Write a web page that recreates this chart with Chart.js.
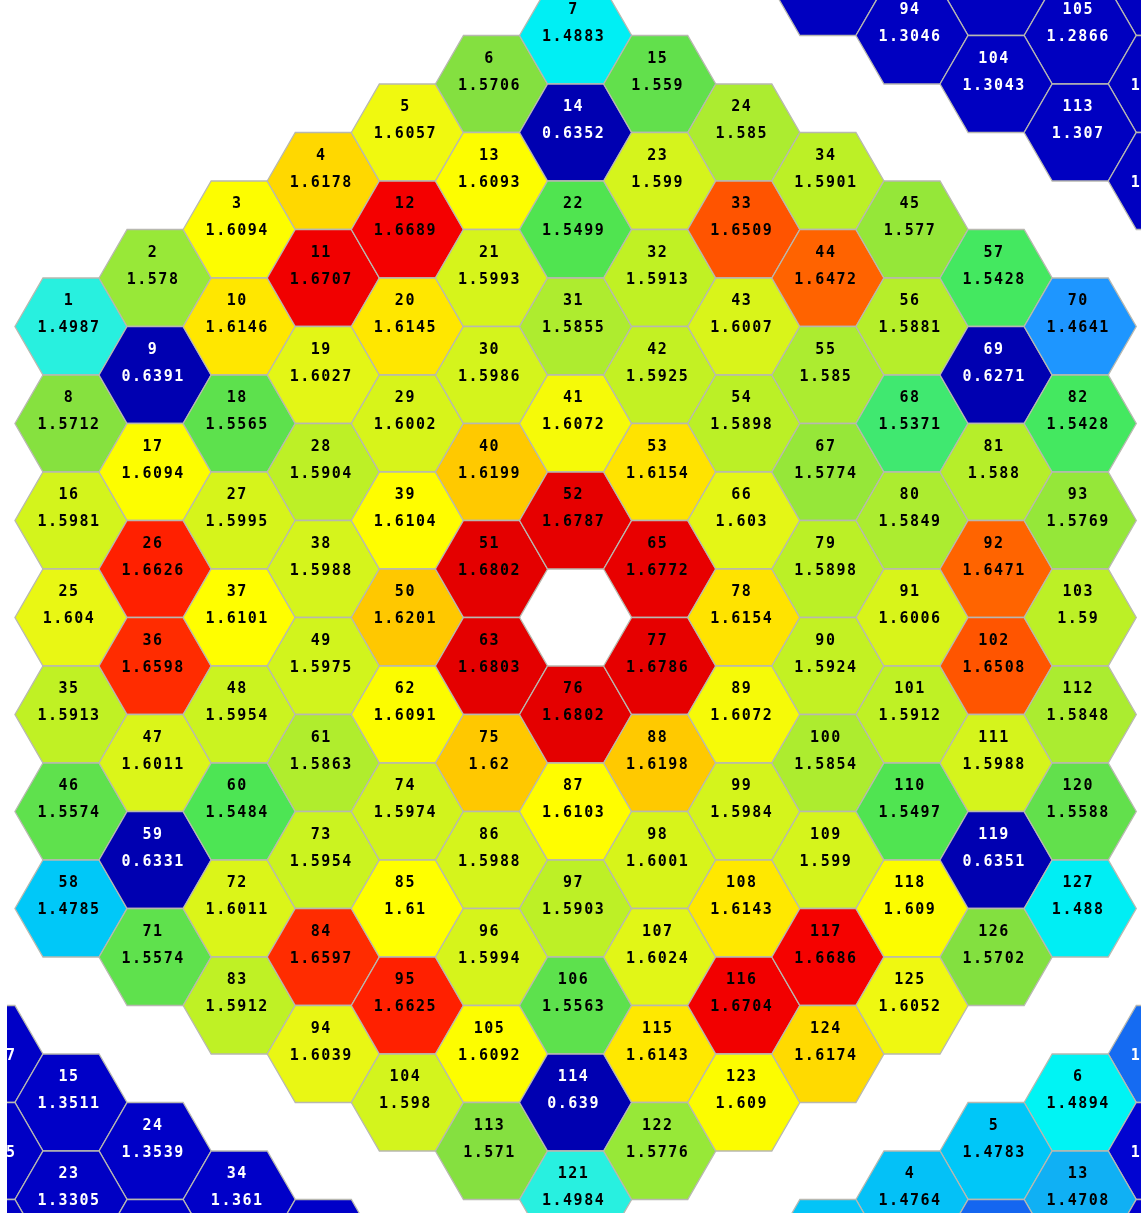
<!DOCTYPE html>
<html>
<head>
<meta charset="utf-8">
<script src="https://cdn.jsdelivr.net/npm/chart.js@4.4.1/dist/chart.umd.min.js"></script>
<style>
  html, body { margin: 0; padding: 0; background: #fff; overflow: hidden; }
  #wrap { width: 1141px; height: 1213px; }
</style>
</head>
<body>
<div id="wrap"><canvas id="chart"></canvas></div>
<script>
// assembly values, one array per diagonal row (number 1..127), 64 = empty centre
const row1 = [1.4987, 1.578, 1.6094, 1.6178, 1.6057, 1.5706, 1.4883];
const row2 = [1.5712, 0.6391, 1.6146, 1.6707, 1.6689, 1.6093, 0.6352, 1.559];
const row3 = [1.5981, 1.6094, 1.5565, 1.6027, 1.6145, 1.5993, 1.5499, 1.599, 1.585];
const row4 = [1.604, 1.6626, 1.5995, 1.5904, 1.6002, 1.5986, 1.5855, 1.5913, 1.6509, 1.5901];
const row5 = [1.5913, 1.6598, 1.6101, 1.5988, 1.6104, 1.6199, 1.6072, 1.5925, 1.6007, 1.6472, 1.577];
const row6 = [1.5574, 1.6011, 1.5954, 1.5975, 1.6201, 1.6802, 1.6787, 1.6154, 1.5898, 1.585, 1.5881, 1.5428];
const row7 = [1.4785, 0.6331, 1.5484, 1.5863, 1.6091, 1.6803, null, 1.6772, 1.603, 1.5774, 1.5371, 0.6271, 1.4641];
const row8 = [1.5574, 1.6011, 1.5954, 1.5974, 1.62, 1.6802, 1.6786, 1.6154, 1.5898, 1.5849, 1.588, 1.5428];
const row9 = [1.5912, 1.6597, 1.61, 1.5988, 1.6103, 1.6198, 1.6072, 1.5924, 1.6006, 1.6471, 1.5769];
const row10 = [1.6039, 1.6625, 1.5994, 1.5903, 1.6001, 1.5984, 1.5854, 1.5912, 1.6508, 1.59];
const row11 = [1.598, 1.6092, 1.5563, 1.6024, 1.6143, 1.599, 1.5497, 1.5988, 1.5848];
const row12 = [1.571, 0.639, 1.6143, 1.6704, 1.6686, 1.609, 0.6351, 1.5588];
const row13 = [1.4984, 1.5776, 1.609, 1.6174, 1.6052, 1.5702, 1.488];

// neighbouring assemblies (only the part inside the picture)
const topRightNumbers = [83, 95, 106, 94, 105, 104, 114, 113, 121];
const topRightValues = [1.3021, 1.2958, 1.2893, 1.3046, 1.2866, 1.3043, 1.2911, 1.307, 1.3102];
const bottomLeftNumbers = [7, 15, 14, 24, 23, 34, 22, 33, 45];
const bottomLeftValues = [1.3447, 1.3511, 1.3385, 1.3539, 1.3305, 1.361, 1.3412, 1.3508, 1.3583];
const bottomRightNumbers = [7, 6, 14, 5, 13, 4, 3, 12, 22];
const bottomRightValues = [1.4562, 1.4894, 1.4215, 1.4783, 1.4708, 1.4764, 1.4771, 1.4553, 1.4012];

const rows = [row1, row2, row3, row4, row5, row6, row7, row8, row9, row10, row11, row12, row13];

// colour scale (jet-like) value -> rgb
const colorStops = [
  [0.6, [0, 0, 176]], [1.3, [0, 0, 192]], [1.42, [0, 0, 208]], [1.455, [20, 100, 240]],
  [1.4641, [30, 150, 255]], [1.4708, [16, 176, 244]], [1.4785, [0, 200, 248]],
  [1.488, [0, 238, 244]], [1.4894, [0, 244, 244]], [1.4985, [40, 240, 224]],
  [1.5371, [64, 232, 112]], [1.5428, [68, 232, 96]], [1.55, [80, 228, 80]],
  [1.559, [98, 224, 76]], [1.5706, [132, 224, 64]], [1.578, [152, 232, 56]],
  [1.585, [172, 236, 48]], [1.59, [188, 240, 38]], [1.5985, [212, 244, 28]],
  [1.6005, [216, 244, 26]], [1.605, [238, 248, 18]], [1.609, [252, 252, 0]],
  [1.61, [255, 255, 0]], [1.6143, [255, 232, 0]], [1.6178, [255, 216, 0]],
  [1.62, [255, 200, 0]], [1.647, [255, 100, 0]], [1.651, [255, 84, 0]],
  [1.6598, [255, 44, 0]], [1.6626, [255, 32, 0]], [1.6689, [244, 0, 0]], [1.68, [228, 0, 0]]
];

function valueColor(v) {
  if (v <= colorStops[0][0]) return `rgb(${colorStops[0][1].join(",")})`;
  for (let i = 1; i < colorStops.length; i++) {
    const [v1, c1] = colorStops[i];
    if (v <= v1) {
      const [v0, c0] = colorStops[i - 1];
      const f = (v - v0) / (v1 - v0);
      const c = c0.map((a, j) => Math.round(a + f * (c1[j] - a)));
      return `rgb(${c.join(",")})`;
    }
  }
  return `rgb(${colorStops[colorStops.length - 1][1].join(",")})`;
}

// number -> grid position (column c, half-row k)
function cellPos(n) {
  const rowLen = (r) => 13 - Math.abs(r - 6);
  let r = 0, start = 1;
  while (start + rowLen(r) <= n) { start += rowLen(r); r++; }
  const c = (n - start) + Math.max(0, r - 6);
  return { c, k: 6 + 2 * r - c };
}

const mainPoints = [];
rows.forEach((row, r) => {
  const first = rows.slice(0, r).reduce((s, a) => s + a.length, 1);
  row.forEach((v, i) => {
    if (v === null) return;
    const p = cellPos(first + i);
    mainPoints.push({ x: p.c, y: p.k, v: v, n: first + i });
  });
});

function neighbourPoints(numbers, values, dc, dk) {
  return numbers.map((n, i) => {
    const p = cellPos(n);
    return { x: p.c + dc, y: p.k + dk, v: values[i], n: n };
  });
}

const hexPlugin = {
  id: "hexCells",
  afterDatasetsDraw(chart) {
    const ctx = chart.ctx;
    const area = chart.chartArea;
    const xs = chart.scales.x;
    const ys = chart.scales.y;
    const rx = Math.abs(xs.getPixelForValue(1) - xs.getPixelForValue(0)) / 1.5;
    const ry = Math.abs(ys.getPixelForValue(1) - ys.getPixelForValue(0));
    const cells = [];
    chart.data.datasets.forEach((ds) => ds.data.forEach((p) => cells.push(p)));

    ctx.save();
    ctx.beginPath();
    ctx.rect(area.left, area.top, area.right - area.left, area.bottom - area.top);
    ctx.clip();
    cells.forEach((p) => {
      const px = xs.getPixelForValue(p.x);
      const py = ys.getPixelForValue(p.y);
      ctx.beginPath();
      ctx.moveTo(px - rx, py);
      ctx.lineTo(px - rx / 2, py - ry);
      ctx.lineTo(px + rx / 2, py - ry);
      ctx.lineTo(px + rx, py);
      ctx.lineTo(px + rx / 2, py + ry);
      ctx.lineTo(px - rx / 2, py + ry);
      ctx.closePath();
      ctx.fillStyle = valueColor(p.v);
      ctx.fill();
      ctx.lineWidth = 1.3;
      ctx.strokeStyle = "#b8b8b0";
      ctx.stroke();
    });

    ctx.font = 'bold 15px "DejaVu Sans Mono"';
    ctx.letterSpacing = "1.5px";
    ctx.textAlign = "center";
    ctx.textBaseline = "middle";
    cells.forEach((p) => {
      const px = xs.getPixelForValue(p.x) - 2;
      const py = ys.getPixelForValue(p.y);
      ctx.fillStyle = p.v < 1.46 ? "#ffffff" : "#000000";
      ctx.fillText(String(p.n), px, py - 25);
      ctx.fillText(String(p.v), px, py + 2);
    });
    ctx.restore();
  }
};

// column 0 centre at x=71, column step 84.1 px; half-row step 48.5 px, row 0 at y=35.5
const leftMargin = 7;
const xMin = -(71 - leftMargin) / 84.1;
const xMax = xMin + (1141 - leftMargin) / 84.1;

const ctx = document.getElementById("chart").getContext("2d");
new Chart(ctx, {
  type: "scatter",
  data: {
    datasets: [
      { label: "assembly", data: mainPoints, pointRadius: 0 },
      { label: "top right", data: neighbourPoints(topRightNumbers, topRightValues, 7, -21), pointRadius: 0 },
      { label: "bottom left", data: neighbourPoints(bottomLeftNumbers, bottomLeftValues, -7, 21), pointRadius: 0 },
      { label: "bottom right", data: neighbourPoints(bottomRightNumbers, bottomRightValues, 7, 21), pointRadius: 0 }
    ]
  },
  options: {
    responsive: true,
    maintainAspectRatio: false,
    animation: false,
    events: [],
    layout: { padding: { left: leftMargin, right: 0, top: 0, bottom: 0 }, autoPadding: false },
    plugins: { legend: { display: false }, tooltip: { enabled: false } },
    scales: {
      x: { type: "linear", display: false, min: xMin, max: xMax },
      y: { type: "linear", display: false, reverse: true, min: -35.5 / 48.5, max: (1213 - 35.5) / 48.5 }
    }
  },
  plugins: [hexPlugin]
});
</script>
</body>
</html>
